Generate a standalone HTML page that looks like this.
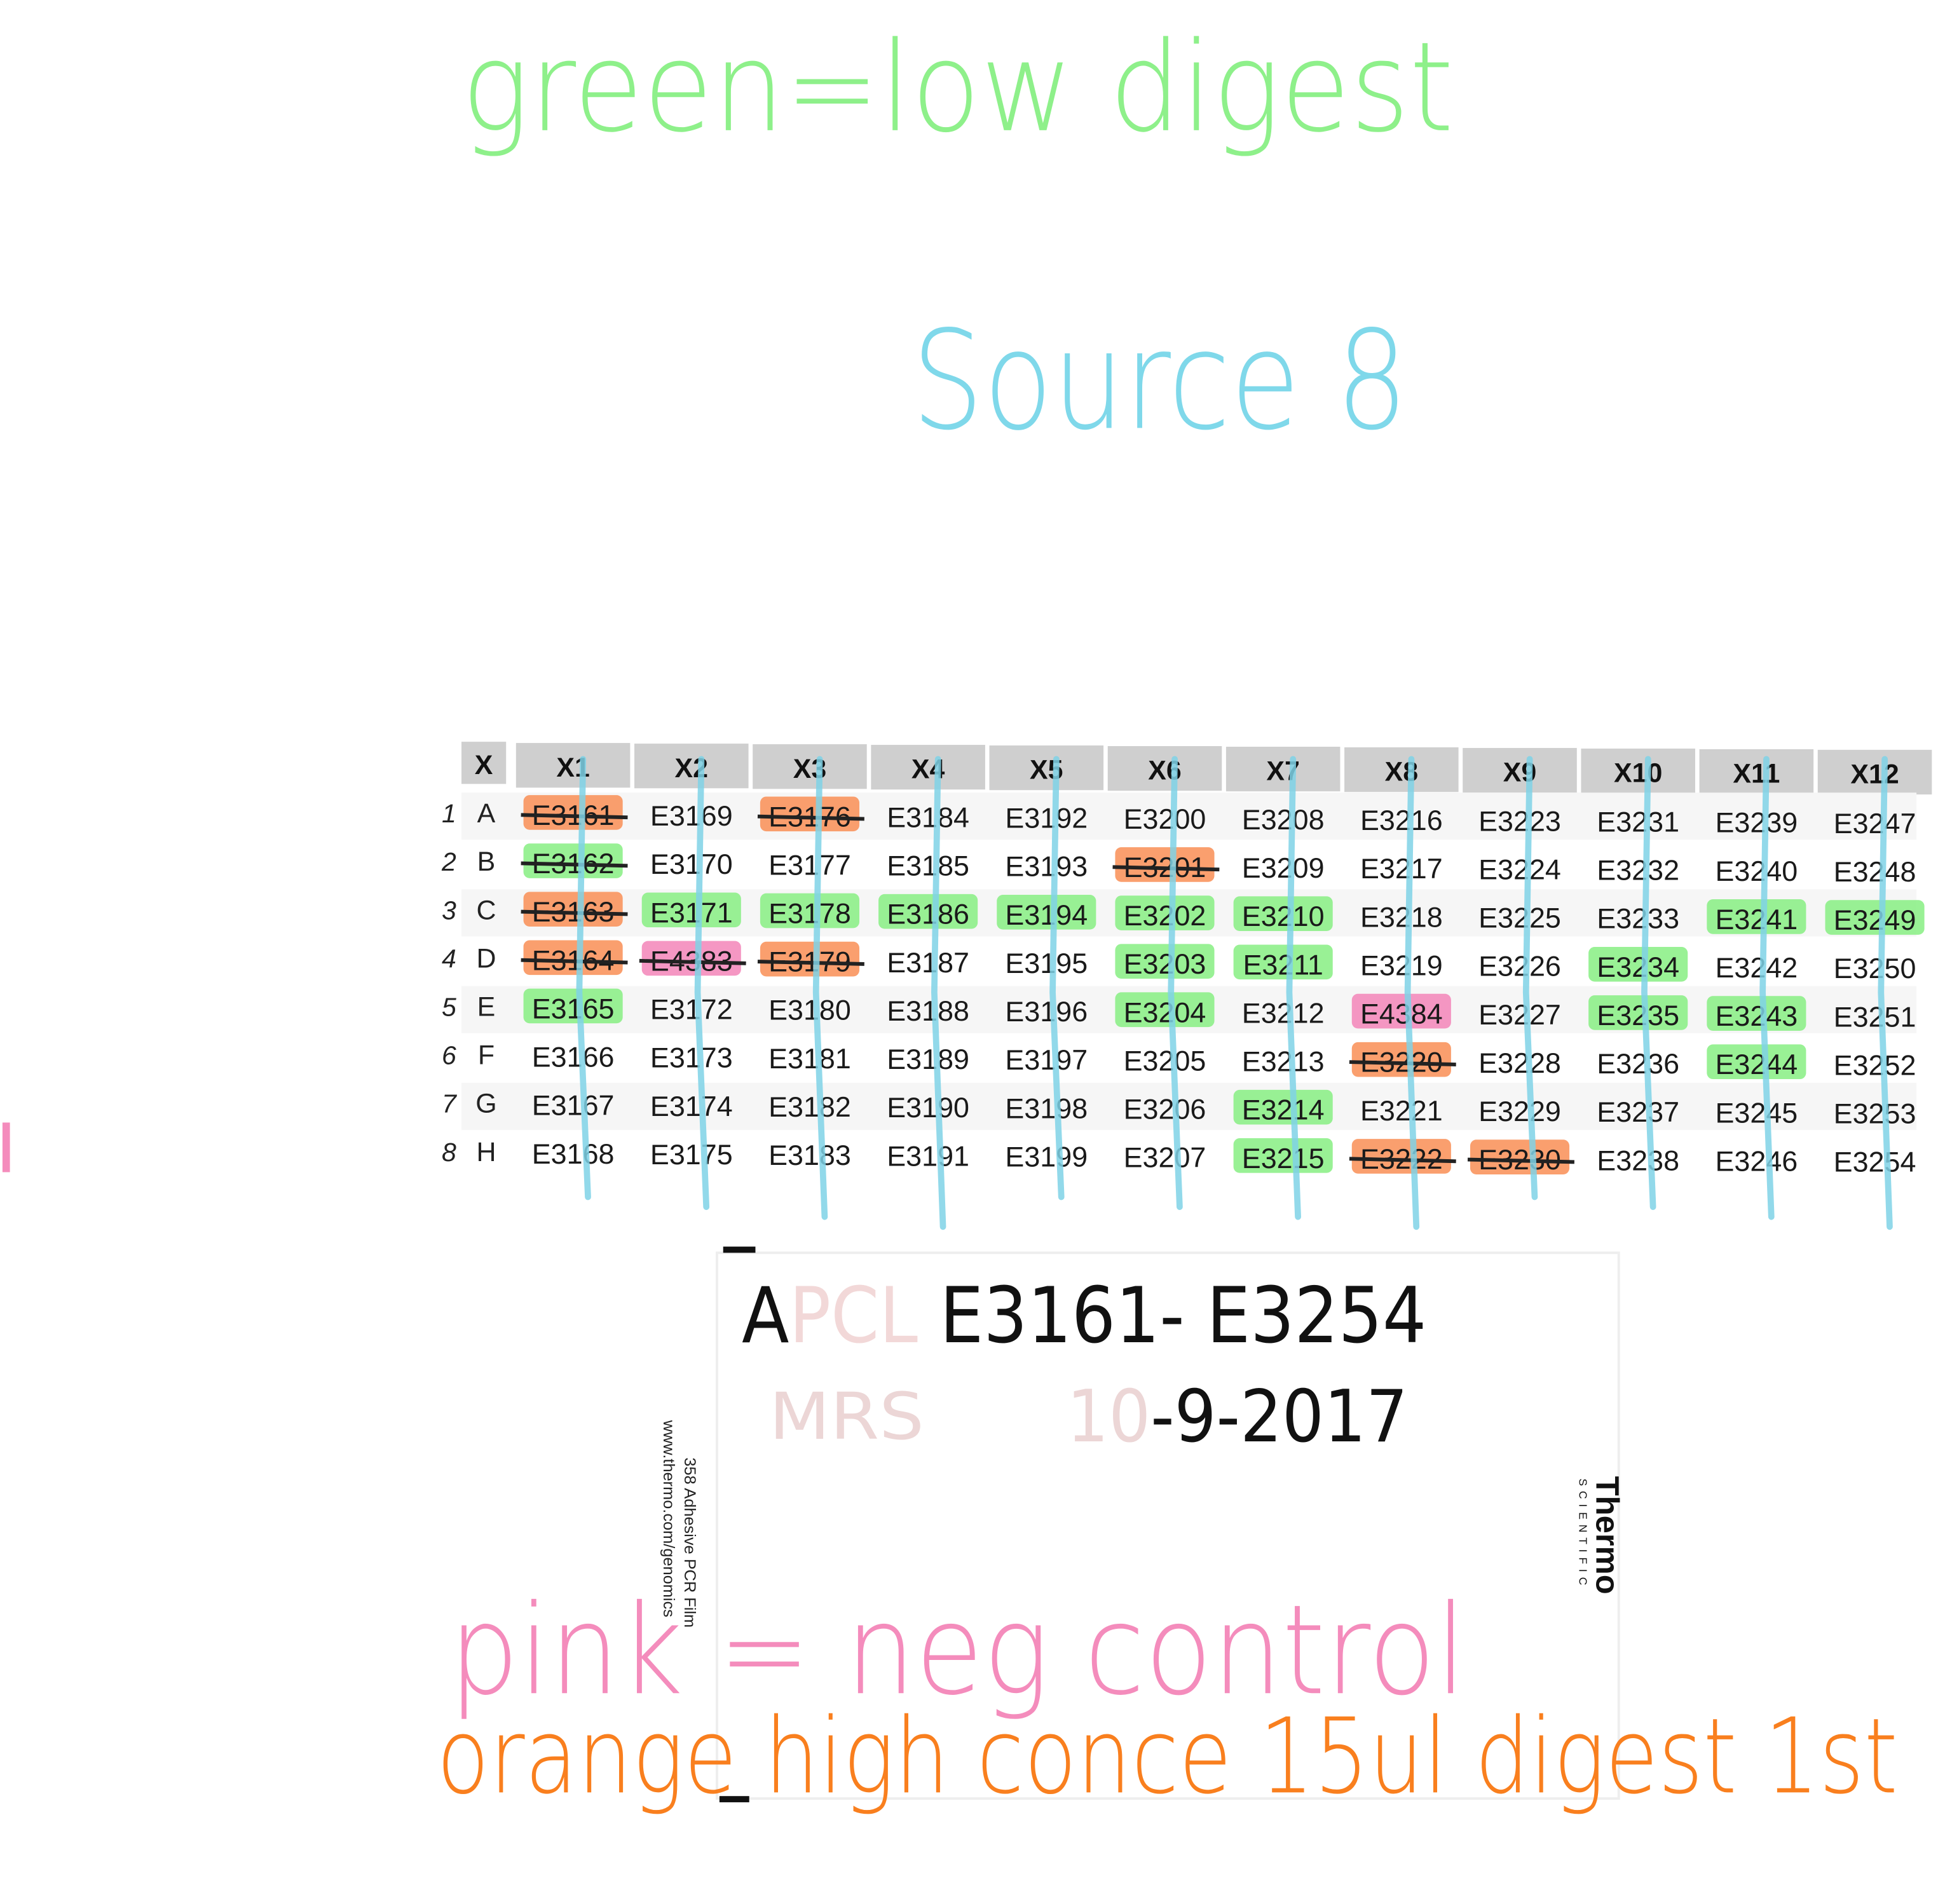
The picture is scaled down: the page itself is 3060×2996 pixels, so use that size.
<!DOCTYPE html>
<html><head><meta charset="utf-8"><style>
html,body{margin:0;padding:0;background:#fff}
svg{display:block}
</style></head><body>
<svg id="s" xmlns="http://www.w3.org/2000/svg" width="3060" height="2996" viewBox="0 0 1568 1535" preserveAspectRatio="none">
<rect width="1568" height="1535" fill="#fff"/>
<text x="372" y="105" font-size="100" font-weight="200" textLength="800" lengthAdjust="spacingAndGlyphs" font-family="DejaVu Sans, sans-serif" fill="#8ef08a">green=low digest</text>
<text x="735" y="345" font-size="110" font-weight="200" textLength="400" lengthAdjust="spacingAndGlyphs" font-family="DejaVu Sans, sans-serif" fill="#7fd8ea">Source 8</text>

<g id="table"></g>

<rect x="578" y="1010" width="727" height="440" fill="none" stroke="#eeeeee" stroke-width="2"/>
<rect x="583" y="1005" width="26" height="5" fill="#111"/>
<rect x="580" y="1448" width="24" height="5" fill="#111"/>
<text x="598" y="1082" font-size="62" textLength="552" lengthAdjust="spacingAndGlyphs" font-family="DejaVu Sans, sans-serif" fill="#111">A<tspan fill="#f2d8d8">PCL </tspan>E3161- E3254</text>
<text x="620" y="1160" font-size="52" textLength="125" lengthAdjust="spacingAndGlyphs" font-family="DejaVu Sans, sans-serif" fill="#ecd6d6">MRS</text>
<text x="860" y="1162" font-size="58" textLength="275" lengthAdjust="spacingAndGlyphs" font-family="DejaVu Sans, sans-serif" fill="#111"><tspan fill="#ecd6d6">10</tspan>-9-2017</text>
<text transform="translate(535,1145) rotate(90)" font-size="13" font-family="Liberation Sans, sans-serif" fill="#222">www.thermo.com/genomics</text>
<text transform="translate(552,1175) rotate(90)" font-size="13" font-family="Liberation Sans, sans-serif" fill="#222">358 Adhesive PCR Film</text>
<text transform="translate(1287,1190) rotate(90)" font-size="26" font-weight="bold" font-family="Liberation Sans, sans-serif" fill="#111">Thermo</text>
<text transform="translate(1273,1192) rotate(90)" font-size="9" letter-spacing="4" font-family="Liberation Sans, sans-serif" fill="#111">SCIENTIFIC</text>

<text x="362" y="1365" font-size="100" font-weight="200" textLength="820" lengthAdjust="spacingAndGlyphs" font-family="DejaVu Sans, sans-serif" fill="#f48cbc">pink = neg control</text>
<text x="352" y="1445" font-size="84" font-weight="200" textLength="1178" lengthAdjust="spacingAndGlyphs" font-family="DejaVu Sans, sans-serif" fill="#f97f1e">orange high conce 15ul digest 1st</text>
<rect x="2" y="905" width="6" height="40" fill="#f48cbc"/>
</svg>
<script>
const colLabels=["X1","X2","X3","X4","X5","X6","X7","X8","X9","X10","X11","X12"];
const rowLabels=["A","B","C","D","E","F","G","H"];
const wellIds=[
["E3161","E3162","E3163","E3164","E3165","E3166","E3167","E3168"],
["E3169","E3170","E3171","E4383","E3172","E3173","E3174","E3175"],
["E3176","E3177","E3178","E3179","E3180","E3181","E3182","E3183"],
["E3184","E3185","E3186","E3187","E3188","E3189","E3190","E3191"],
["E3192","E3193","E3194","E3195","E3196","E3197","E3198","E3199"],
["E3200","E3201","E3202","E3203","E3204","E3205","E3206","E3207"],
["E3208","E3209","E3210","E3211","E3212","E3213","E3214","E3215"],
["E3216","E3217","E3218","E3219","E4384","E3220","E3221","E3222"],
["E3223","E3224","E3225","E3226","E3227","E3228","E3229","E3230"],
["E3231","E3232","E3233","E3234","E3235","E3236","E3237","E3238"],
["E3239","E3240","E3241","E3242","E3243","E3244","E3245","E3246"],
["E3247","E3248","E3249","E3250","E3251","E3252","E3253","E3254"]];
const highlights=[[0,0,"o"],[0,1,"g"],[0,2,"o"],[0,3,"o"],[0,4,"g"],[1,2,"g"],[1,3,"p"],[2,0,"o"],[2,2,"g"],[2,3,"o"],[3,2,"g"],[4,2,"g"],[5,1,"o"],[5,2,"g"],[5,3,"g"],[5,4,"g"],[6,2,"g"],[6,3,"g"],[6,6,"g"],[6,7,"g"],[7,4,"p"],[7,5,"o"],[7,7,"o"],[8,7,"o"],[9,3,"g"],[9,4,"g"],[10,2,"g"],[10,4,"g"],[10,5,"g"],[11,2,"g"]];
const struck=[[0,0],[0,1],[0,2],[0,3],[1,3],[2,0],[2,3],[5,1],[7,5],[7,7],[8,7]];
const NS="http://www.w3.org/2000/svg";
const T=document.getElementById("table");
const colX=c=>462+c*95.4, rowY=(r,c)=>665+r*39+c*0.6;
const colors={g:"#8ef08a",o:"#f9955e",p:"#f48cbc"};
function mk(tag,attrs){const e=document.createElementNS(NS,tag);for(const k in attrs)e.setAttribute(k,attrs[k]);T.appendChild(e);return e;}
let h=mk("rect",{x:372,y:598,width:36,height:34,fill:"#cfcfcf"});


let ht=mk("text",{x:390,y:624,"font-size":22,"font-weight":"bold","text-anchor":"middle","font-family":"Liberation Sans, sans-serif",fill:"#111"});ht.textContent="X";
colLabels.forEach((l,c)=>{
 const r=mk("rect",{x:colX(c)-46,y:599+c*0.5,width:92,height:36,fill:"#cfcfcf"});
 
 
 const t=mk("text",{x:colX(c),y:626+c*0.5,"font-size":22,"font-weight":"bold","text-anchor":"middle","font-family":"Liberation Sans, sans-serif",fill:"#111"});
 
 
 t.textContent=l;
});
rowLabels.forEach((l,r)=>{
 const b=mk("rect",{x:372,y:rowY(r,0)-26,width:1173,height:38,fill:r%2?"#fff":"#f6f6f6"});
 
 
 const n=mk("text",{x:362,y:rowY(r,0)-2,"font-size":21,"font-style":"italic","text-anchor":"middle","font-family":"Liberation Sans, sans-serif",fill:"#222"});
 
 
 n.textContent=String(r+1);
 const t=mk("text",{x:392,y:rowY(r,0)-2,"font-size":22,"text-anchor":"middle","font-family":"Liberation Sans, sans-serif",fill:"#222"});
 
 
 t.textContent=l;
});
highlights.forEach(([c,r,k])=>{
 const e=mk("rect",{x:colX(c)-40,y:rowY(r,c)-24,width:80,height:28,rx:5,fill:colors[k],opacity:0.9});
 
 
});
wellIds.forEach((col,c)=>col.forEach((id,r)=>{
 const t=mk("text",{x:colX(c),y:rowY(r,c),"font-size":23,"text-anchor":"middle","font-family":"Liberation Sans, sans-serif",fill:"#1a1a1a"});
 
 
 t.textContent=id;
}));
struck.forEach(([c,r])=>{
 const l=mk("line",{x1:colX(c)-42,y1:rowY(r,c)-8,x2:colX(c)+44,y2:rowY(r,c)-6,stroke:"#222","stroke-width":3});
 
 
});
colLabels.forEach((l,c)=>{
 const x=colX(c)+8;
 const p=mk("path",{d:`M${x} 612 L${x-3} 800 L${x+4} ${965+(c%4)*8}`,stroke:"#7fd2e6","stroke-width":5,fill:"none","stroke-linecap":"round",opacity:0.85});
 
 
});
</script>
</body></html>
